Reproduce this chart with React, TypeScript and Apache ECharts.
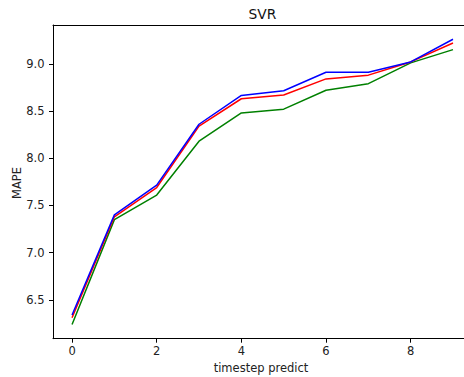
import React, { useEffect, useRef } from "react";
import * as echarts from "echarts";

const steps = [0, 1, 2, 3, 4, 5, 6, 7, 8, 9];
const blueValues = [6.34, 7.4, 7.715, 8.36, 8.665, 8.715, 8.91, 8.91, 9.02, 9.26];
const redValues = [6.31, 7.38, 7.69, 8.34, 8.63, 8.67, 8.84, 8.88, 9.02, 9.22];
const greenValues = [6.24, 7.35, 7.61, 8.18, 8.48, 8.52, 8.72, 8.79, 9.01, 9.15];
const xTicks = [0, 2, 4, 6, 8];
const yTicks = [6.5, 7.0, 7.5, 8.0, 8.5, 9.0];

const FONT = "DejaVu Sans";

export default function App() {
  const ref = useRef<HTMLDivElement>(null);
  useEffect(() => {
    if (!ref.current) return;
    const chart = echarts.init(ref.current, null, { renderer: "svg" });
    const pair = (vals: number[]) => steps.map((s, i) => [s, vals[i]]);
    const axisLine = { show: true, lineStyle: { color: "#000", width: 1 } };
    chart.setOption({
      animation: false,
      backgroundColor: "#fff",
      grid: { left: 53, right: 0, top: 25, bottom: 38.3, containLabel: false },
      xAxis: [
        {
          type: "value",
          min: -0.45,
          max: 9.26,
          axisLine: { ...axisLine, onZero: false },
          splitLine: { show: false },
          axisTick: { show: true, length: 4, customValues: xTicks, lineStyle: { color: "#000" } },
          axisLabel: {
            customValues: xTicks,
            margin: 6.5,
            fontFamily: FONT,
            fontSize: 11.5,
            color: "#222",
            formatter: (v: number) => String(v),
          },
        },
        {
          type: "value",
          position: "top",
          min: -0.45,
          max: 9.26,
          axisLine: { ...axisLine, onZero: false },
          splitLine: { show: false },
          axisTick: { show: false },
          axisLabel: { show: false },
        },
      ],
      yAxis: {
        type: "value",
        min: 6.089,
        max: 9.411,
        axisLine: { ...axisLine, onZero: false },
        splitLine: { show: false },
        axisTick: { show: true, length: 4, customValues: yTicks, lineStyle: { color: "#000" } },
        axisLabel: {
          customValues: yTicks,
          margin: 8.5,
          fontFamily: FONT,
          fontSize: 11.5,
          color: "#222",
          formatter: (v: number) => v.toFixed(1),
        },
      },
      graphic: [
        {
          type: "text",
          x: 262.5,
          y: 14.3,
          style: {
            text: "SVR",
            fontFamily: FONT,
            fontSize: 13.8,
            fill: "#111",
            textAlign: "center",
            textVerticalAlign: "middle",
          },
        },
        {
          type: "text",
          x: 261,
          y: 367.5,
          style: {
            text: "timestep predict",
            fontFamily: FONT,
            fontSize: 11.5,
            fill: "#222",
            textAlign: "center",
            textVerticalAlign: "middle",
          },
        },
        {
          type: "text",
          x: 16.5,
          y: 183,
          rotation: Math.PI / 2,
          style: {
            text: "MAPE",
            fontFamily: FONT,
            fontSize: 11.5,
            fill: "#222",
            textAlign: "center",
            textVerticalAlign: "middle",
          },
        },
      ],
      series: [
        {
          name: "green",
          type: "line",
          data: pair(greenValues),
          showSymbol: false,
          lineStyle: { color: "#008000", width: 1.5 },
          itemStyle: { color: "#008000" },
        },
        {
          name: "red",
          type: "line",
          data: pair(redValues),
          showSymbol: false,
          lineStyle: { color: "#ff0000", width: 1.5 },
          itemStyle: { color: "#ff0000" },
        },
        {
          name: "blue",
          type: "line",
          data: pair(blueValues),
          showSymbol: false,
          lineStyle: { color: "#0000ff", width: 1.5 },
          itemStyle: { color: "#0000ff" },
        },
      ],
    });
    return () => chart.dispose();
  }, []);
  return (
    <div
      ref={ref}
      style={{ position: "fixed", left: 0, top: 0, width: 464, height: 377 }}
    />
  );
}
